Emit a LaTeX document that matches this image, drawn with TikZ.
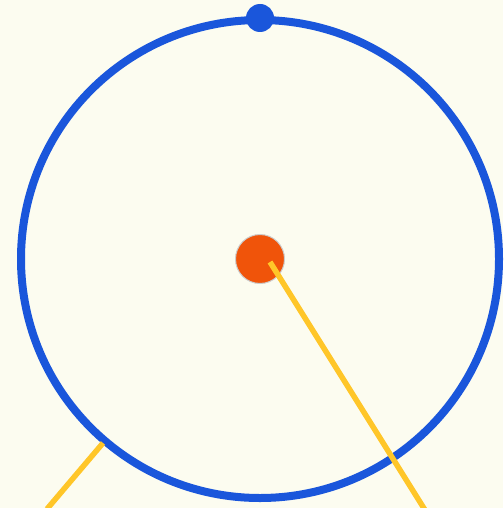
\documentclass[tikz,border=0pt]{standalone}
\definecolor{bg}{HTML}{FCFCF0}
\definecolor{ringblue}{HTML}{1A56DB}
\definecolor{hub}{HTML}{F0540A}
\definecolor{ray}{HTML}{FFC629}
\begin{document}
\begin{tikzpicture}[x=1pt,y=-1pt,
  ringstyle/.style={draw=ringblue,line width=8pt},
  raystyle/.style={draw=ray,line width=5.5pt},
  dotstyle/.style={circle,fill=ringblue,inner sep=0pt,minimum size=28pt},
  hubstyle/.style={circle,fill=hub,draw=gray!40,line width=1pt,inner sep=0pt,minimum size=49pt}]
\fill[bg] (0,0) rectangle (503,508);
\useasboundingbox (0,0) rectangle (503,508);
\coordinate (c) at (260,259);
\draw[ringstyle] (c) circle[radius=239];
\node[dotstyle] (top) at (260,18) {};
\node[hubstyle] (hub) at (260,259) {};
\coordinate (r1a) at (270,262);
\coordinate (r1b) at (425,510);
\coordinate (r2a) at (103,443);
\coordinate (r2b) at (47,509);
\draw[raystyle] (r1a) -- (r1b);
\draw[raystyle] (r2a) -- (r2b);
\end{tikzpicture}
\end{document}
